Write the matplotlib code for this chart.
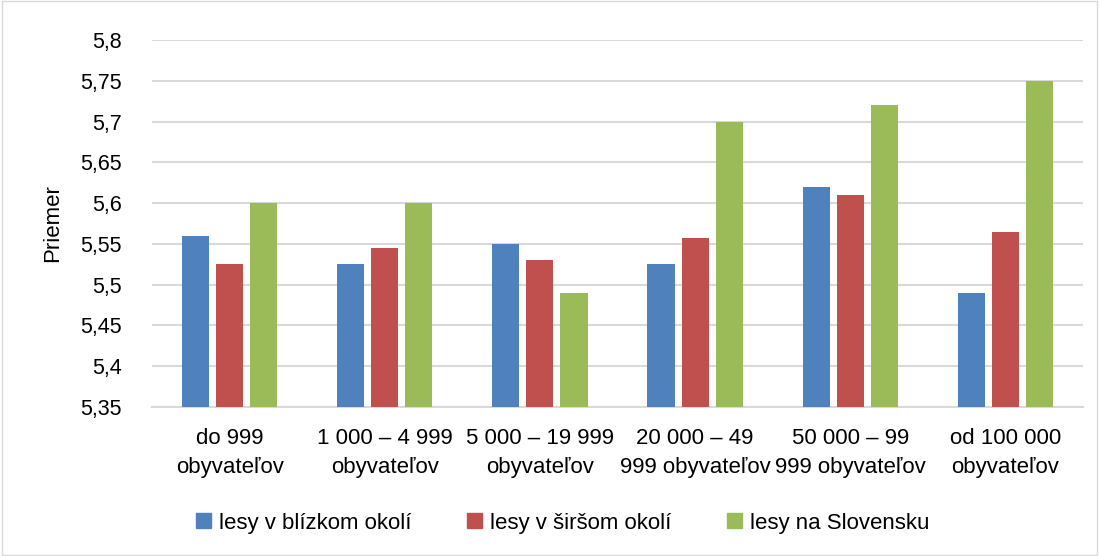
import numpy as np
import matplotlib
matplotlib.use("Agg")
import matplotlib.pyplot as plt
from matplotlib.patches import Patch
from matplotlib.ticker import FuncFormatter

plt.rcParams["font.family"] = ["Liberation Sans", "DejaVu Sans"]

categories = ["do 999\nobyvateľov", "1 000 – 4 999\nobyvateľov", "5 000 – 19 999\nobyvateľov",
              "20 000 – 49\n999 obyvateľov", "50 000 – 99\n999 obyvateľov", "od 100 000\nobyvateľov"]
series = ["lesy v blízkom okolí", "lesy v širšom okolí", "lesy na Slovensku"]
blizke = [5.56, 5.525, 5.55, 5.525, 5.62, 5.49]
sirsie = [5.525, 5.545, 5.53, 5.557, 5.61, 5.565]
slovensko = [5.60, 5.60, 5.49, 5.70, 5.72, 5.75]
colors = ["#4f81bd", "#c0504d", "#9bbb59"]
yticks = [5.35, 5.4, 5.45, 5.5, 5.55, 5.6, 5.65, 5.7, 5.75, 5.8]

fig = plt.figure(figsize=(10.99, 5.56), dpi=100)
ax = fig.add_axes([152 / 1099, 1 - 407 / 556, (1083 - 152) / 1099, (407 - 40) / 556])
x = np.arange(len(categories))
w = 0.175
step = 0.22
for i, (vals, c) in enumerate(zip([blizke, sirsie, slovensko], colors)):
    ax.bar(x + (i - 1) * step, np.array(vals) - 5.35, w, bottom=5.35, color=c, zorder=3)

ax.set_xlim(-0.5, len(categories) - 0.5)
ax.set_ylim(5.35, 5.8)
ax.set_yticks(yticks)
ax.yaxis.set_major_formatter(FuncFormatter(lambda v, p: f"{v:.2f}".rstrip("0").replace(".", ",")))
ax.grid(axis="y", color="#d9d9d9", lw=1.5, zorder=0)
ax.set_xticks(x)
ax.set_xticklabels(categories, fontsize=16, linespacing=1.5)
ax.tick_params(axis="y", labelsize=15.5, length=0, pad=22)
ax.tick_params(axis="x", length=0, pad=15)
for s in ["left", "right", "top"]:
    ax.spines[s].set_visible(False)
ax.spines["bottom"].set_color("#d9d9d9")
ax.spines["bottom"].set_linewidth(1.5)
ax.set_ylabel("Priemer", fontsize=16, labelpad=12)

handles = [Patch(color=c, label=s) for s, c in zip(series, colors)]
fig.legend(handles=handles, loc="center", bbox_to_anchor=(0.512, 1 - 523 / 556), ncol=3, frameon=False,
           fontsize=16, handlelength=0.68, handleheight=0.68, handletextpad=0.35, columnspacing=2.5)

fig.patches.append(plt.Rectangle((0.002, 0.002), 0.996, 0.996, transform=fig.transFigure,
                                 fill=False, edgecolor="#d9d9d9", lw=1))
fig.savefig("out.png", dpi=100)
